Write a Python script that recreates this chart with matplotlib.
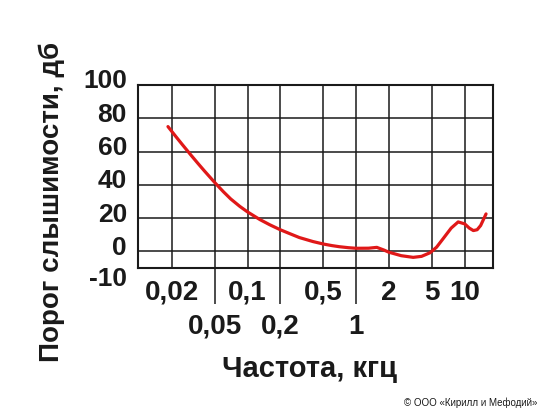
import matplotlib
matplotlib.use("Agg")
import matplotlib.pyplot as plt
from matplotlib import font_manager
from matplotlib.ticker import FixedLocator, FixedFormatter
from matplotlib.transforms import ScaledTranslation

plt.rcParams['font.family'] = ['Liberation Sans', 'DejaVu Sans']

# Data (frequency in kHz, hearing threshold in dB)
freq = [0.0185, 0.022, 0.025, 0.03, 0.035, 0.04, 0.05, 0.06, 0.07, 0.085, 0.1,
        0.13, 0.16, 0.2, 0.25, 0.3, 0.4, 0.5, 0.6, 0.7, 0.85,
        1.0, 1.3, 1.55, 1.8, 2.0, 2.6, 3.35, 4.0, 4.8, 5.5, 6.3, 7.5, 8.7,
        10, 11, 12, 13, 14, 15.7]
thr = [75, 68.8, 64.3, 58, 52.8, 48.4, 41.3, 35.8, 31.5, 27, 23.7,
       19.1, 16, 13, 10.4, 8.3, 5.9, 4.4, 3.45, 2.8, 2.2,
       1.85, 1.9, 2.4, 0.8, -0.5, -2.6, -3.6, -3.0, -0.8, 2.5, 7.5, 14, 17.7,
       16.5, 14, 12.5, 13, 15.5, 22.5]

row1_ticks = [0.02, 0.1, 0.5, 2, 5, 10]
row1_labels = ["0,02", "0,1", "0,5", "2", "5", "10"]
row2_ticks = [0.05, 0.2, 1]
row2_labels = ["0,05", "0,2", "1"]
y_ticks = [-10, 0, 20, 40, 60, 80, 100]
y_labels = ["-10", "0", "20", "40", "60", "80", "100"]

W, H = 554, 416
fig = plt.figure(figsize=(W / 100, H / 100), dpi=100)
ax = fig.add_axes([138 / W, 1 - 268 / H, (493 - 138) / W, (268 - 85) / H])

ax.plot(freq, thr, color="#e01818", lw=2.3, solid_joinstyle="round",
        solid_capstyle="round", zorder=3)

ax.set_xscale("log")
ax.set_xlim(0.0098, 18.2)
ax.set_ylim(-10, 100)

ax.xaxis.set_major_locator(FixedLocator(row1_ticks))
ax.xaxis.set_major_formatter(FixedFormatter(row1_labels))
ax.xaxis.set_minor_locator(FixedLocator(row2_ticks))
ax.xaxis.set_minor_formatter(FixedFormatter(row2_labels))
ax.yaxis.set_major_locator(FixedLocator(y_ticks))
ax.yaxis.set_major_formatter(FixedFormatter(y_labels))

ax.tick_params(axis="x", which="major", length=0, pad=8.5, labelsize=20,
               labelcolor="#1a1a1a")
ax.tick_params(axis="x", which="minor", length=26, width=1.1, direction="out",
               pad=7, color="#1a1a1a", labelsize=20, labelcolor="#1a1a1a")
ax.tick_params(axis="y", which="major", length=0, pad=8, labelsize=19,
               labelcolor="#1a1a1a")
for t in ax.get_xticklabels() + ax.get_xticklabels(minor=True) + ax.get_yticklabels():
    t.set_fontweight("bold")
for t in ax.get_yticklabels():
    dy = 9 if t.get_text() == "-10" else -6
    t.set_transform(t.get_transform() + ScaledTranslation(0, -dy / 100, fig.dpi_scale_trans))

ax.grid(True, which="both", axis="x", color="#1a1a1a", lw=1.1)
ax.grid(True, which="major", axis="y", color="#1a1a1a", lw=1.1)
for s in ax.spines.values():
    s.set_linewidth(1.5)
    s.set_color("#1a1a1a")

names = {f.name for f in font_manager.fontManager.ttflist}
if "Liberation Sans Narrow" in names:
    xl_family, xl_size = ["Liberation Sans Narrow", "DejaVu Sans"], 24.5
else:
    xl_family, xl_size = ["Liberation Sans", "DejaVu Sans"], 21

fig.text(52 / W, 1 - 202 / H, "Порог слышимости, дб", rotation=90,
         ha="center", va="center", fontsize=20, fontweight="bold", color="#1a1a1a")
fig.text(310 / W, 1 - 377 / H, "Частота, кгц", ha="center", va="baseline",
         fontsize=xl_size, fontweight="bold", color="#1a1a1a", family=xl_family)
fig.text(537 / W, 1 - 403 / H, "© ООО «Кирилл и Мефодий»", ha="right",
         va="center", fontsize=7, color="#1a1a1a")

fig.savefig("out.png", dpi=100, facecolor="white")
